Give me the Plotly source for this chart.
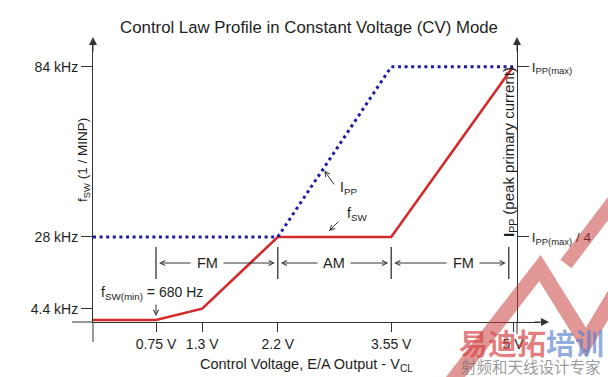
import plotly.graph_objects as go

# ---------------- data ----------------
v_fsw = [0, 0.75, 1.3, 2.2, 3.55, 5.0]          # control voltage (V)
f_sw_khz = [0.68, 0.68, 4.4, 28, 28, 84]        # switching frequency (kHz)
v_ipp = [0, 2.2, 3.55, 5.0]                     # control voltage (V)
ipp_frac = [0.25, 0.25, 1.0, 1.0]               # IPP as fraction of IPP(max)

x_tick_vals = [0.75, 1.3, 2.2, 3.55, 5.0]
x_tick_text = ['0.75 V', '1.3 V', '2.2 V', '3.55 V', '5 V']
y_tick_vals = [4.4, 28, 84]
y_tick_text = ['4.4 kHz', '28 kHz', '84 kHz']
y2_tick_vals = [0.25, 1.0]
y2_tick_text = ['I<sub>PP(max)</sub> / 4', 'I<sub>PP(max)</sub>']

mode_bounds = [0.75, 2.2, 3.55, 4.95]
mode_labels = ['FM', 'AM', 'FM']

# ---------------- layout geometry ----------------
W, H = 608, 377
ML, MR, MT, MB = 93, 68, 45, 55
PW, PH = W - ML - MR, H - MT - MB
X_MAX = PW / 84.0
Y_MAX = 91.2
Y2_MIN, Y2_MAX = -0.125, 1.0964


def px(xpix):
    return (xpix - ML) / PW


def py(ypix):
    return (MT + PH - ypix) / PH


def vx(xpix):
    return (xpix - ML) / PW * X_MAX


def fy(ypix):
    return (MT + PH - ypix) / PH * Y_MAX


FONT = 'Liberation Sans, Arial, sans-serif'
TXT = '#1e1e1e'
AX = '#333333'
RED = '#d42a2a'
BLUE = '#1c1ca0'


def label(xp, yp, text, size=14, angle=0, family=FONT, color=TXT):
    return dict(x=px(xp), y=py(yp), xref='paper', yref='paper', showarrow=False,
                xanchor='center', yanchor='middle', text=text, textangle=angle,
                font=dict(family=family, size=size, color=color))


fig = go.Figure()
fig.add_trace(go.Scatter(x=v_ipp, y=ipp_frac, yaxis='y2', mode='lines',
                         line=dict(color=BLUE, width=3, dash='3px,3.6px'),
                         hoverinfo='skip'))
fig.add_trace(go.Scatter(x=v_fsw, y=f_sw_khz, mode='lines',
                         line=dict(color=RED, width=2.6), hoverinfo='skip'))

shapes = []
# axis extensions
shapes.append(dict(type='line', xref='paper', yref='paper', x0=px(72), x1=0, y0=0, y1=0,
                   line=dict(color=AX, width=1)))
shapes.append(dict(type='line', xref='paper', yref='paper', x0=0, x1=0, y0=0, y1=py(342),
                   line=dict(color=AX, width=1)))
shapes.append(dict(type='line', xref='paper', yref='paper', x0=px(517), x1=px(517), y0=0, y1=py(334),
                   line=dict(color=AX, width=1)))
# mode boundary markers
for b in mode_bounds:
    shapes.append(dict(type='line', xref='x', yref='y', x0=b, x1=b, y0=fy(279), y1=fy(247),
                       line=dict(color='#222', width=1.2)))

ann = []
# axis arrowheads
ann.append(dict(x=0, y=py(37), xref='paper', yref='paper', ax=0, ay=16, text='',
                showarrow=True, arrowhead=2, arrowsize=1.6, arrowwidth=1, arrowcolor=AX))
ann.append(dict(x=px(517), y=py(37), xref='paper', yref='paper', ax=0, ay=16, text='',
                showarrow=True, arrowhead=2, arrowsize=1.6, arrowwidth=1, arrowcolor=AX))
ann.append(dict(x=px(549), y=0, xref='paper', yref='paper', ax=-16, ay=0, text='',
                showarrow=True, arrowhead=2, arrowsize=1.6, arrowwidth=1, arrowcolor=AX))

# axis titles
ann.append(label(83, 160, 'f<sub>SW</sub> (1 / MINP)', size=13.5, angle=-90))
ann.append(label(509, 152, '<b>I</b><sub>PP</sub> (peak primary current)', size=15, angle=-90))
ann.append(label(306, 365, 'Control Voltage, E/A Output - V<sub>CL</sub>', size=14.5))

# curve labels
ann.append(dict(x=2.74, y=0.55, xref='x', yref='y2', ax=12, ay=17, text='',
                showarrow=True, arrowhead=5, arrowsize=1, arrowwidth=1, arrowcolor='#333', standoff=2))
ann.append(label(348, 188, 'I<sub>PP</sub>', size=14))
ann.append(dict(x=vx(329), y=fy(231), xref='x', yref='y', ax=11, ay=-11, text='',
                showarrow=True, arrowhead=5, arrowsize=1, arrowwidth=1, arrowcolor='#333'))
ann.append(label(357, 214, 'f<sub>SW</sub>', size=14))
ann.append(dict(x=0.75, y=fy(316), xref='x', yref='y', ax=0, ay=-13, text='',
                showarrow=True, arrowhead=5, arrowsize=1, arrowwidth=1, arrowcolor='#333'))
ann.append(label(152, 293, 'f<sub>SW(min)</sub> = 680 Hz', size=14))

# FM / AM region arrows
label_px = [207, 334, 463]
row = fy(263)
for i, lab in enumerate(mode_labels):
    a, b = mode_bounds[i], mode_bounds[i + 1]
    c = vx(label_px[i])
    half = 15 / PW * X_MAX
    ann.append(dict(x=a, y=row, xref='x', yref='y', axref='x', ayref='y', ax=c - half, ay=row,
                    text='', showarrow=True, arrowhead=5, arrowsize=1, arrowwidth=1,
                    arrowcolor='#333', standoff=3))
    ann.append(dict(x=b, y=row, xref='x', yref='y', axref='x', ayref='y', ax=c + half, ay=row,
                    text='', showarrow=True, arrowhead=5, arrowsize=1, arrowwidth=1,
                    arrowcolor='#333', standoff=3))
    ann.append(dict(x=c, y=row, xref='x', yref='y', showarrow=False, text=lab,
                    xanchor='center', yanchor='middle',
                    font=dict(family=FONT, size=14.5, color=TXT)))


# watermark
def path(pts):
    return 'M ' + ' L '.join(f'{px(a):.4f},{py(b):.4f}' for a, b in pts)


WM = 'rgba(200,55,55,0.52)'
shapes.append(dict(type='path', xref='paper', yref='paper', layer='above',
                   path=path([(450, 384), (540, 268), (586, 342), (616, 292)]),
                   line=dict(color=WM, width=15)))
shapes.append(dict(type='line', xref='paper', yref='paper', layer='above',
                   x0=px(566), y0=py(264), x1=px(616), y1=py(198),
                   line=dict(color=WM, width=14)))
ann.append(label(531, 342,
                 '<b><span style="color:rgba(215,70,70,0.7)">易迪拓</span>'
                 '<span style="color:rgba(80,125,205,0.65)">培训</span></b>',
                 size=29, family='Noto Sans CJK SC'))
ann.append(label(531, 366, '射频和天线设计专家', size=15.5, family='Noto Sans CJK SC',
                 color='rgba(110,110,110,0.7)'))

fig.update_layout(
    width=W, height=H,
    margin=dict(l=ML, r=MR, t=MT, b=MB, autoexpand=False),
    paper_bgcolor='white', plot_bgcolor='white',
    showlegend=False,
    title=dict(text='Control Law Profile in Constant Voltage (CV) Mode',
               x=309 / W, xanchor='center', xref='container',
               y=1 - 27 / H, yanchor='middle', yref='container',
               font=dict(family=FONT, size=16.8, color=TXT)),
    xaxis=dict(range=[0, X_MAX], showgrid=False, zeroline=False, showline=True,
               linecolor=AX, linewidth=1, ticks='outside', ticklen=9, tickcolor=AX,
               tickvals=x_tick_vals, ticktext=x_tick_text,
               tickfont=dict(family=FONT, size=14, color=TXT), fixedrange=True),
    yaxis=dict(range=[0, Y_MAX], showgrid=False, zeroline=False, showline=True,
               linecolor=AX, linewidth=1, ticks='outside', ticklen=11, tickcolor=AX,
               tickvals=y_tick_vals, ticktext=y_tick_text,
               tickfont=dict(family=FONT, size=14, color=TXT), fixedrange=True),
    yaxis2=dict(range=[Y2_MIN, Y2_MAX], overlaying='y', side='right', anchor='free',
                position=px(517), showgrid=False, zeroline=False, showline=True,
                linecolor=AX, linewidth=1, ticks='outside', ticklen=11, tickcolor=AX,
                tickvals=y2_tick_vals, ticktext=y2_tick_text,
                tickfont=dict(family=FONT, size=13.5, color=TXT), fixedrange=True),
    shapes=shapes, annotations=ann,
)

fig.write_html('out.html', config={'displayModeBar': False},
               post_script="document.body.style.margin='0px';")
